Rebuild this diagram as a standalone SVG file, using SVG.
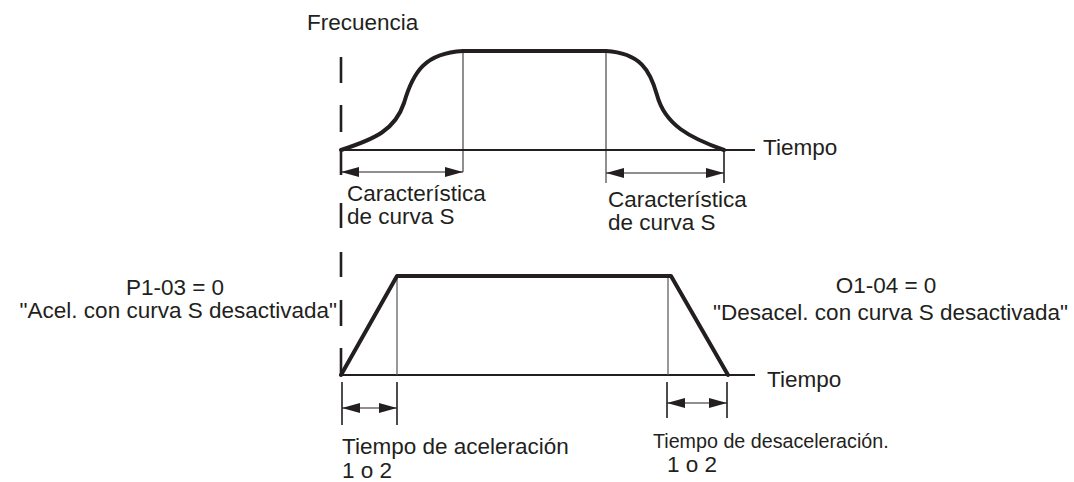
<svg xmlns="http://www.w3.org/2000/svg" width="1074" height="482" viewBox="0 0 1074 482">
<style>
text{font-family:"Liberation Sans",Arial,sans-serif;font-size:22.5px;fill:#231f20}
.small{font-size:19.7px}
.thick{fill:none;stroke:#231f20;stroke-width:4;stroke-linejoin:round;stroke-linecap:round}
.axis{fill:none;stroke:#231f20;stroke-width:2}
.thin{fill:none;stroke:#231f20;stroke-width:1}
.gray{fill:none;stroke:#555;stroke-width:1.2}
.tick{fill:none;stroke:#231f20;stroke-width:1.6}
.dash{fill:none;stroke:#231f20;stroke-width:2.6}
.dim{fill:none;stroke:#231f20;stroke-width:1.2;marker-start:url(#ah);marker-end:url(#ah)}
</style>
<defs>
<marker id="ah" viewBox="0 0 18 10" refX="18" refY="5" markerWidth="18" markerHeight="10" markerUnits="userSpaceOnUse" orient="auto-start-reverse">
<path d="M0,0 L18,5 L0,10 z" fill="#231f20"/>
</marker>
</defs>

<g id="dashed-reference">
<line class="dash" x1="341" y1="57" x2="341" y2="83"/>
<line class="dash" x1="341" y1="105" x2="341" y2="132"/>
<line class="dash" x1="341" y1="150" x2="341" y2="175"/>
<line class="dash" x1="341" y1="203" x2="341" y2="228"/>
<line class="dash" x1="341" y1="252" x2="341" y2="277"/>
<line class="dash" x1="341" y1="300" x2="341" y2="326"/>
<line class="dash" x1="341" y1="348" x2="341" y2="375"/>
</g>

<g id="top-graph">
<line class="axis" x1="341" y1="150" x2="755" y2="150"/>
<line class="thin" x1="463" y1="51" x2="463" y2="172"/>
<line class="thin" x1="606" y1="51" x2="606" y2="183"/>
<line class="tick" x1="724" y1="150" x2="724" y2="183"/>
<path class="thick" d="M341,150 C375,139 395,130 404,103 C413,72 425,53 463,51 L606,51 C640,53 650,70 657,95 C665,125 690,138 724,150"/>
<text x="307" y="30">Frecuencia</text>
<text x="763" y="155">Tiempo</text>
</g>

<g id="bottom-graph">
<line class="axis" x1="341" y1="375" x2="755" y2="375"/>
<line class="gray" x1="397" y1="276" x2="397" y2="375"/>
<line class="gray" x1="668" y1="276" x2="668" y2="375"/>
<path class="thick" d="M341,375 L397,276 L671,276 L728,375"/>
<line class="tick" x1="342" y1="382" x2="342" y2="425"/>
<line class="tick" x1="397" y1="382" x2="397" y2="425"/>
<line class="tick" x1="667" y1="382" x2="667" y2="418"/>
<line class="tick" x1="727" y1="382" x2="727" y2="418"/>
<text x="767" y="387">Tiempo</text>
</g>

<g id="connectors">
<line class="dim" x1="341" y1="172" x2="463" y2="172"/>
<line class="dim" x1="606" y1="173" x2="724" y2="173"/>
<line class="dim" x1="342" y1="408" x2="397" y2="408"/>
<line class="dim" x1="667" y1="403" x2="727" y2="403"/>
</g>

<g id="label-scurve-acc">
<text x="347" y="201">Característica</text>
<text x="347" y="224">de curva S</text>
</g>
<g id="label-scurve-dec">
<text x="608" y="207">Característica</text>
<text x="608" y="230">de curva S</text>
</g>
<g id="label-p1-03">
<text x="175" y="295" text-anchor="middle">P1-03 = 0</text>
<text x="337" y="318" text-anchor="end">"Acel. con curva S desactivada"</text>
</g>
<g id="label-o1-04">
<text x="886" y="293" text-anchor="middle">O1-04 = 0</text>
<text x="1068" y="320" text-anchor="end">"Desacel. con curva S desactivada"</text>
</g>
<g id="label-acc-time">
<text x="342" y="454">Tiempo de aceleración</text>
<text x="342" y="478">1 o 2</text>
</g>
<g id="label-dec-time">
<text class="small" x="653" y="448">Tiempo de desaceleración.</text>
<text x="667" y="472">1 o 2</text>
</g>
</svg>
